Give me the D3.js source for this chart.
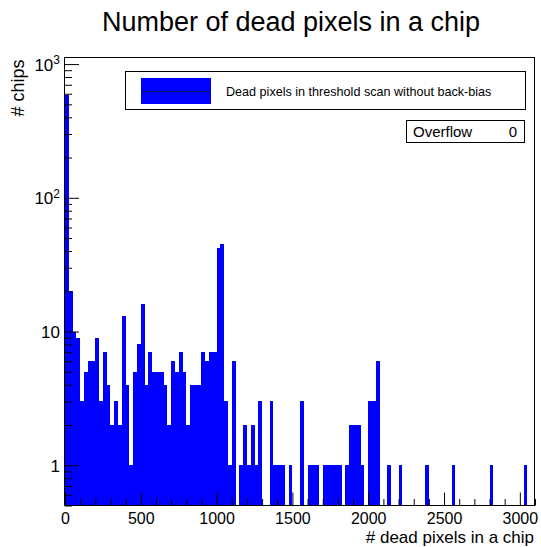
<!DOCTYPE html>
<html>
<head>
<meta charset="utf-8">
<script src="https://cdn.jsdelivr.net/npm/d3@7"></script>
<style>
  html, body { margin: 0; padding: 0; background: #fff; }
  svg { display: block; }
</style>
</head>
<body>
<div id="chart"></div>
<script>
// Histogram: number of dead pixels per chip (log y), ROOT-style frame

// Histogram binning, 25 pixels per bin from 0 to 3100
const BIN_WIDTH = 25;
const X_MIN = 0;
const X_MAX = 3100;

// Entries per bin (bin i covers [i*25, (i+1)*25))
const COUNTS = [
  590, 20, 10, 9, 3, 5, 6, 6, 9, 3,
  7, 4, 2, 3, 2, 13, 4, 1, 5, 8,
  16, 4, 7, 5, 5, 5, 4, 2, 6, 5,
  7, 5, 2, 4, 4, 4, 7, 6, 7, 7,
  42, 45, 3, 1, 6, 0, 1, 2, 1, 2,
  1, 3, 0, 0, 3, 1, 1, 1, 0, 1,
  0, 0, 3, 0, 1, 1, 1, 0, 1, 1,
  1, 1, 1, 0, 1, 2, 2, 2, 1, 0,
  3, 3, 6, 0, 0, 1, 0, 0, 1, 0,
  0, 0, 0, 0, 0, 1, 0, 0, 0, 0,
  0, 0, 1, 0, 0, 0, 0, 0, 0, 0,
  0, 0, 1, 0, 0, 0, 0, 0, 0, 0,
  0, 1, 0, 0
];

const X_TICKS       = [0, 500, 1000, 1500, 2000, 2500, 3000];
const X_MINOR_STEP  = 100;
const Y_TICKS       = [1, 10, 100, 1000];
const Y_TICK_LABELS = [["1", ""], ["10", ""], ["10", "2"], ["10", "3"]];
const Y_DOMAIN      = [0.5, 1120];

const TITLE        = "Number of dead pixels in a chip";
const X_TITLE      = "# dead pixels in a chip";
const Y_TITLE      = "# chips";
const LEGEND_LABEL = "Dead pixels in threshold scan without back-bias";
const OVERFLOW     = 0;

const FONT = "'Liberation Sans', Helvetica, Arial, sans-serif";
const W = 541, H = 547;
const frame = { left: 65, right: 535, top: 57.5, bottom: 505.5 };

const svg = d3.select("#chart").append("svg")
  .attr("width", W)
  .attr("height", H)
  .attr("viewBox", `0 0 ${W} ${H}`)
  .style("font-family", FONT);

svg.append("rect").attr("width", W).attr("height", H).attr("fill", "#fff");

const x = d3.scaleLinear().domain([X_MIN, X_MAX]).range([frame.left, frame.right]);
const y = d3.scaleLog().domain(Y_DOMAIN).range([frame.bottom, frame.top]);

// Bars (one rect per non-empty bin, drawn from the bottom of the frame)
const bins = COUNTS.map((c, i) => ({ x0: X_MIN + i * BIN_WIDTH, x1: X_MIN + (i + 1) * BIN_WIDTH, n: c }));

svg.append("g")
  .selectAll("rect")
  .data(bins.filter(d => d.n > 0))
  .join("rect")
    .attr("x", d => x(d.x0))
    .attr("width", d => x(d.x1) - x(d.x0))
    .attr("y", d => y(d.n))
    .attr("height", d => y(Y_DOMAIN[0]) - y(d.n))
    .attr("fill", "#0000ff")
    .attr("shape-rendering", "crispEdges");

// X axis: minor ticks every 100, major every 500, ticks point inward
const xMinor = d3.range(X_MIN, X_MAX + 1, X_MINOR_STEP).filter(v => !X_TICKS.includes(v));

svg.append("g")
  .attr("transform", `translate(0,${frame.bottom})`)
  .call(d3.axisBottom(x).tickValues(xMinor).tickSizeInner(-6.5).tickSizeOuter(0).tickFormat(""))
  .call(g => g.select(".domain").remove());

const xAxisG = svg.append("g")
  .attr("transform", `translate(0,${frame.bottom})`)
  .call(d3.axisBottom(x)
    .tickValues(X_TICKS)
    .tickSizeInner(-13)
    .tickSizeOuter(0)
    .tickPadding(7.5)
    .tickFormat(d3.format("d")));

xAxisG.select(".domain").remove();
xAxisG.selectAll(".tick line").attr("stroke", "#000");
xAxisG.selectAll("text")
  .attr("fill", "#000")
  .attr("font-size", "16px")
  .attr("font-family", FONT);

// Y axis: log decades with 2..9 minor ticks
const yMinor = [];
[0.1, 1, 10, 100, 1000].forEach(dec => {
  for (let k = 2; k <= 9; k++) {
    const v = dec * k;
    if (v >= Y_DOMAIN[0] && v <= Y_DOMAIN[1]) yMinor.push(v);
  }
});

svg.append("g")
  .attr("transform", `translate(${frame.left},0)`)
  .call(d3.axisLeft(y).tickValues(yMinor).tickSizeInner(-7).tickSizeOuter(0).tickFormat(""))
  .call(g => g.select(".domain").remove());

const yAxisG = svg.append("g")
  .attr("transform", `translate(${frame.left},0)`)
  .call(d3.axisLeft(y).tickValues(Y_TICKS).tickSizeInner(-14).tickSizeOuter(0).tickPadding(5).tickFormat(""));

yAxisG.select(".domain").remove();
yAxisG.selectAll(".tick line").attr("stroke", "#000");

// Labels with superscript exponents
yAxisG.selectAll(".tick").each(function (d, i) {
  const [base, exp] = Y_TICK_LABELS[i];
  const t = d3.select(this).select("text")
    .attr("fill", "#000")
    .attr("font-size", "17px")
    .attr("font-family", FONT)
    .attr("x", -5)
    .attr("dy", "0.35em");
  t.append("tspan").text(base);
  if (exp) {
    t.append("tspan")
      .attr("font-size", "12px")
      .attr("dy", "-0.55em")
      .text(exp);
  }
});

// Frame
svg.append("rect")
  .attr("x", frame.left - 0.5)
  .attr("y", frame.top)
  .attr("width", frame.right - frame.left)
  .attr("height", frame.bottom - frame.top)
  .attr("fill", "none")
  .attr("stroke", "#000")
  .attr("stroke-width", 1);

// Titles
svg.append("text")
  .attr("x", 291)
  .attr("y", 31)
  .attr("text-anchor", "middle")
  .attr("font-size", "27px")
  .attr("fill", "#000")
  .text(TITLE);

svg.append("text")
  .attr("x", frame.right - 1)
  .attr("y", 543)
  .attr("text-anchor", "end")
  .attr("font-size", "17px")
  .attr("fill", "#000")
  .text(X_TITLE);

svg.append("text")
  .attr("transform", `translate(24,${frame.top + 2}) rotate(-90)`)
  .attr("text-anchor", "end")
  .attr("font-size", "18px")
  .attr("fill", "#000")
  .text(Y_TITLE);

// Legend box
const leg = svg.append("g");
leg.append("rect")
  .attr("x", 125.5).attr("y", 71.5)
  .attr("width", 400).attr("height", 38)
  .attr("fill", "#fff")
  .attr("stroke", "#000");
leg.append("rect")
  .attr("x", 141).attr("y", 78)
  .attr("width", 70).attr("height", 26)
  .attr("fill", "#0000ff");
leg.append("line")
  .attr("x1", 141).attr("x2", 211)
  .attr("y1", 91.5).attr("y2", 91.5)
  .attr("stroke", "#10105a");
leg.append("text")
  .attr("x", 226).attr("y", 95.5)
  .attr("font-size", "12.6px")
  .attr("fill", "#000")
  .text(LEGEND_LABEL);

// Overflow stats box
const ov = svg.append("g");
ov.append("rect")
  .attr("x", 406.5).attr("y", 120.5)
  .attr("width", 118).attr("height", 22)
  .attr("fill", "#fff")
  .attr("stroke", "#000");
ov.append("text")
  .attr("x", 413).attr("y", 137)
  .attr("font-size", "15px")
  .attr("fill", "#000")
  .text("Overflow");
ov.append("text")
  .attr("x", 517).attr("y", 137)
  .attr("text-anchor", "end")
  .attr("font-size", "15px")
  .attr("fill", "#000")
  .text(OVERFLOW);
</script>
</body>
</html>
